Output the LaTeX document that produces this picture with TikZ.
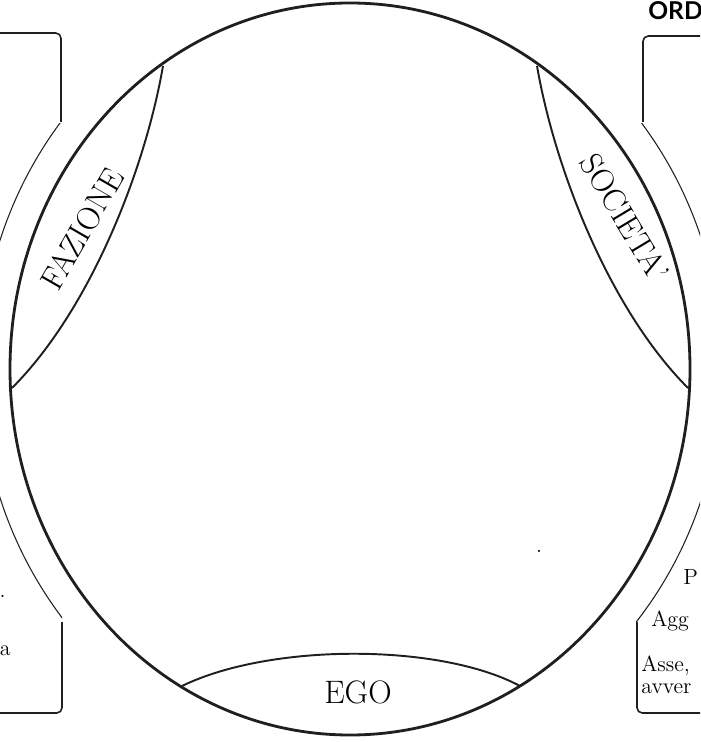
\documentclass[tikz,border=0pt]{standalone}
\usepackage{fontspec}
\newfontfamily\titlefont{Lato}
\usepackage{tikz}
\usetikzlibrary{positioning}

\begin{document}
\begin{tikzpicture}[x=0.02cm,y=-0.02cm,
  bordo/.style={draw=black!88,line width=1.6pt},
  lente/.style={draw=black!88,line width=1.1pt},
  pannello/.style={draw=black!88,line width=0.9pt,rounded corners=3pt},
  arco/.style={draw=black!88,line width=0.6pt},
  etichetta/.style={font=\fontsize{18.5}{20}\selectfont,inner sep=0pt},
  testo/.style={font=\fontsize{12.5}{14}\selectfont,inner sep=0pt,anchor=base west},
  frammento/.style={font=\fontsize{12.5}{14}\selectfont,inner sep=0pt,anchor=base east}
]
\useasboundingbox (0,0) rectangle (700,742);
\clip (0,0) rectangle (700,742);

% Cerchio principale
\coordinate (centro) at (350,369);
\draw[bordo] (centro) ellipse [x radius=340,y radius=366];

% Estremi delle lenti
\coordinate (fz-a) at (163,66);
\coordinate (fz-b) at (12,388);
\coordinate (so-a) at (537,66);
\coordinate (so-b) at (688,388);
\coordinate (eg-a) at (182,686);
\coordinate (eg-b) at (520,686);

% Lenti
\draw[lente] (fz-a) .. controls (145,170) and (90,310) .. (fz-b);
\draw[lente] (so-a) .. controls (555,170) and (610,310) .. (so-b);
\draw[lente] (eg-a) .. controls (270,643) and (440,643) .. (eg-b);

\node[etichetta,rotate=60] (fazione) at (82,229) {FAZIONE};
\node[etichetta,rotate=-59] (societa) at (625,218) {SOCIETA'};
\node[etichetta] (ego) at (358,692) {EGO};

% Pannello sinistro
\draw[pannello] (-5,33) -- (61,33) -- (61,122);
\draw[pannello] (62,622) -- (62,713) -- (-5,713);
\begin{scope}
  \clip (-10,124) rectangle (62,624);
  \draw[arco] (centro) ellipse [x radius=370,y radius=396];
\end{scope}
\node[frammento] (sx-punto) at (6,597) {.};
\node[frammento] (sx-a) at (11,655) {a};

% Pannello destro
\draw[pannello] (643,122) -- (643,36) -- (705,36);
\draw[pannello] (637,622) -- (637,713) -- (705,713);
\begin{scope}
  \clip (636,124) rectangle (710,624);
  \draw[arco] (centro) ellipse [x radius=372,y radius=396];
\end{scope}
\node[anchor=base west,inner sep=0pt,font=\titlefont\bfseries\fontsize{14}{15}\selectfont] (ordine) at (648,20) {ORD};
\node[testo] (dx-p) at (683,584) {P};
\node[testo] (dx-agg) at (651,626) {Agg};
\node[testo] (dx-asse) at (641,671) {Asse,};
\node[testo] (dx-avver) at (641,693) {avver};

% Punto isolato
\node[inner sep=0pt,anchor=base,font=\fontsize{12.5}{14}\selectfont] (punto) at (539,552) {.};

\end{tikzpicture}
\end{document}
